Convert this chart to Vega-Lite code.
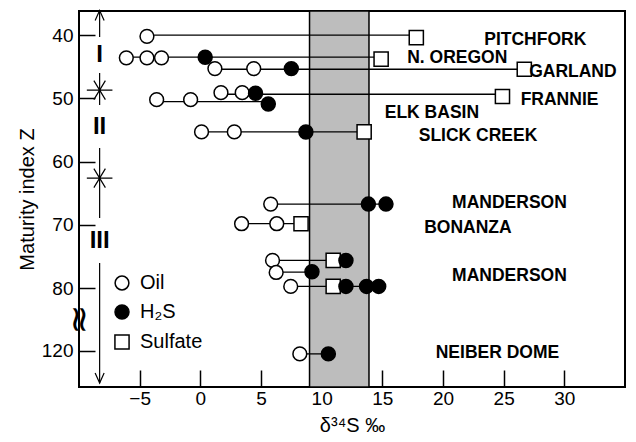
{
  "$schema": "https://vega.github.io/schema/vega-lite/v6.json",
  "width": 546,
  "height": 376,
  "autosize": {"type": "none"},
  "padding": {"left": 79, "top": 11, "right": 11, "bottom": 55},
  "background": "white",
  "config": {
    "view": {"stroke": "black", "strokeWidth": 2},
    "font": "Liberation Sans",
    "axis": {
      "grid": false,
      "domain": false,
      "tickColor": "black",
      "tickWidth": 1.5,
      "labelColor": "black",
      "labelFont": "Liberation Sans",
      "labelFontSize": 19,
      "titleFont": "Liberation Sans",
      "titleFontSize": 20,
      "titleFontWeight": "normal",
      "titleColor": "black"
    }
  },
  "datasets": {
    "pts": [
      {"site": "Pitchfork", "type": "Oil", "d34S": -4.4, "Z": 40.2},
      {"site": "Pitchfork", "type": "Sulfate", "d34S": 17.8, "Z": 40.4},
      {"site": "N. Oregon", "type": "Oil", "d34S": -6.1, "Z": 43.6},
      {"site": "N. Oregon", "type": "Oil", "d34S": -4.4, "Z": 43.6},
      {"site": "N. Oregon", "type": "Oil", "d34S": -3.2, "Z": 43.6},
      {"site": "N. Oregon", "type": "Sulfate", "d34S": 14.9, "Z": 43.8},
      {"site": "Garland", "type": "Oil", "d34S": 1.2, "Z": 45.3},
      {"site": "Garland", "type": "Oil", "d34S": 4.4, "Z": 45.3},
      {"site": "Garland", "type": "H₂S", "d34S": 7.5, "Z": 45.3},
      {"site": "Garland", "type": "Sulfate", "d34S": 26.7, "Z": 45.4},
      {"site": "N. Oregon", "type": "H₂S", "d34S": 0.4, "Z": 43.5},
      {"site": "Elk Basin", "type": "Oil", "d34S": -3.6, "Z": 50.2},
      {"site": "Elk Basin", "type": "Oil", "d34S": -0.8, "Z": 50.2},
      {"site": "Frannie", "type": "Oil", "d34S": 1.7, "Z": 49.1},
      {"site": "Frannie", "type": "Oil", "d34S": 3.45, "Z": 49.1},
      {"site": "Frannie", "type": "Sulfate", "d34S": 24.9, "Z": 49.7},
      {"site": "Frannie", "type": "H₂S", "d34S": 4.55, "Z": 49.2},
      {"site": "Elk Basin", "type": "H₂S", "d34S": 5.6, "Z": 50.9},
      {"site": "Slick Creek", "type": "Oil", "d34S": 0.1, "Z": 55.3},
      {"site": "Slick Creek", "type": "Oil", "d34S": 2.8, "Z": 55.3},
      {"site": "Slick Creek", "type": "H₂S", "d34S": 8.7, "Z": 55.3},
      {"site": "Slick Creek", "type": "Sulfate", "d34S": 13.5, "Z": 55.3},
      {"site": "Manderson", "type": "Oil", "d34S": 5.8, "Z": 66.7},
      {"site": "Manderson", "type": "H₂S", "d34S": 13.85, "Z": 66.7},
      {"site": "Manderson", "type": "H₂S", "d34S": 15.3, "Z": 66.7},
      {"site": "Bonanza", "type": "Oil", "d34S": 3.4, "Z": 69.8},
      {"site": "Bonanza", "type": "Oil", "d34S": 6.3, "Z": 69.8},
      {"site": "Bonanza", "type": "Sulfate", "d34S": 8.3, "Z": 69.8},
      {"site": "Manderson", "type": "Oil", "d34S": 5.95, "Z": 75.6},
      {"site": "Manderson", "type": "Sulfate", "d34S": 10.95, "Z": 75.6},
      {"site": "Manderson", "type": "H₂S", "d34S": 12.0, "Z": 75.6},
      {"site": "Manderson", "type": "Oil", "d34S": 6.25, "Z": 77.5},
      {"site": "Manderson", "type": "H₂S", "d34S": 9.2, "Z": 77.4},
      {"site": "Manderson", "type": "Oil", "d34S": 7.45, "Z": 79.7},
      {"site": "Manderson", "type": "Sulfate", "d34S": 10.95, "Z": 79.7},
      {"site": "Manderson", "type": "H₂S", "d34S": 12.0, "Z": 79.7},
      {"site": "Manderson", "type": "H₂S", "d34S": 13.7, "Z": 79.7},
      {"site": "Manderson", "type": "H₂S", "d34S": 14.7, "Z": 79.7},
      {"site": "Neiber Dome", "type": "Oil", "d34S": 8.2, "Z": 120.5},
      {"site": "Neiber Dome", "type": "H₂S", "d34S": 10.55, "Z": 120.5}
    ],
    "segs": [
      {"site": "Pitchfork", "d34S": -4.4, "d34S2": 17.8, "Z": 40.0},
      {"site": "N. Oregon", "d34S": -6.1, "d34S2": 14.9, "Z": 43.5},
      {"site": "Garland", "d34S": 1.2, "d34S2": 26.7, "Z": 45.4},
      {"site": "Frannie", "d34S": 1.7, "d34S2": 24.9, "Z": 49.35},
      {"site": "Elk Basin", "d34S": -3.6, "d34S2": 5.6, "Z": 50.5},
      {"site": "Slick Creek", "d34S": 0.1, "d34S2": 13.5, "Z": 55.3},
      {"site": "Manderson", "d34S": 5.8, "d34S2": 15.3, "Z": 66.7},
      {"site": "Bonanza", "d34S": 3.4, "d34S2": 8.3, "Z": 69.8},
      {"site": "Manderson", "d34S": 5.95, "d34S2": 12.0, "Z": 75.6},
      {"site": "Manderson", "d34S": 6.25, "d34S2": 9.2, "Z": 77.45},
      {"site": "Manderson", "d34S": 7.45, "d34S2": 14.7, "Z": 79.7},
      {"site": "Neiber Dome", "d34S": 8.2, "d34S2": 10.55, "Z": 120.5}
    ],
    "names": [
      {"name": "PITCHFORK", "d34S": 23.4, "Z": 40.8},
      {"name": "N. OREGON", "d34S": 17.05, "Z": 43.6},
      {"name": "GARLAND", "d34S": 27.1, "Z": 45.8},
      {"name": "FRANNIE", "d34S": 26.4, "Z": 50.3},
      {"name": "ELK BASIN", "d34S": 15.2, "Z": 52.3},
      {"name": "SLICK CREEK", "d34S": 18.0, "Z": 56.0},
      {"name": "MANDERSON", "d34S": 20.75, "Z": 66.6},
      {"name": "BONANZA", "d34S": 18.45, "Z": 70.5},
      {"name": "MANDERSON", "d34S": 20.75, "Z": 78.05},
      {"name": "NEIBER DOME", "d34S": 19.4, "Z": 120.4}
    ],
    "stages": [
      {"stage": "I", "d34S": -8.3, "Z": 43.2},
      {"stage": "II", "d34S": -8.3, "Z": 54.5},
      {"stage": "III", "d34S": -8.3, "Z": 72.5}
    ],
    "stageLine": [
      {"d34S": -8.3, "Z": 36.3, "Z2": 40.3},
      {"d34S": -8.3, "Z": 46.0, "Z2": 51.05},
      {"d34S": -8.3, "Z": 57.85, "Z2": 68.9},
      {"d34S": -8.3, "Z": 76.0, "Z2": 125.1}
    ],
    "stars": [
      {"d34S": -8.3, "Z": 48.7},
      {"d34S": -8.3, "Z": 62.6}
    ]
  },
  "layer": [
    {
      "data": {"values": [{"d34S": 9.0, "d34S2": 13.9}]},
      "mark": {"type": "rect", "fill": "#bdbdbd", "stroke": "black", "strokeWidth": 1.5},
      "encoding": {
        "x": {"field": "d34S", "type": "quantitative"},
        "x2": {"field": "d34S2"}
      }
    },
    {
      "data": {"name": "segs"},
      "mark": {"type": "rule", "color": "black", "strokeWidth": 1.3},
      "encoding": {
        "x": {
          "field": "d34S", "type": "quantitative",
          "scale": {"domain": [-10, 35], "nice": false, "zero": false},
          "axis": {"title": "δ³⁴S ‰", "values": [-5, 0, 5, 10, 15, 20, 25, 30], "offset": -17, "tickSize": 17, "labelPadding": 2, "titlePadding": 7}
        },
        "x2": {"field": "d34S2"},
        "y": {
          "field": "Z", "type": "quantitative",
          "scale": {"domain": [36.2, 80, 120, 125.7], "range": [0, 277.3, 339.7, 376], "nice": false, "zero": false},
          "axis": {"title": "Maturity index Z", "values": [40, 50, 60, 70, 80, 120], "offset": -16, "tickSize": 16, "labelPadding": 6, "titlePadding": 4}
        }
      }
    },
    {
      "data": {"name": "stageLine"},
      "mark": {"type": "rule", "color": "black", "strokeWidth": 1.2},
      "encoding": {
        "x": {"field": "d34S", "type": "quantitative"},
        "y": {"field": "Z", "type": "quantitative"},
        "y2": {"field": "Z2"}
      }
    },
    {
      "data": {"name": "stars"},
      "mark": {"type": "point", "shape": "M-1,0L1,0M-0.45,-0.74L0.45,0.74M-0.45,0.74L0.45,-0.74", "size": 655, "filled": false, "stroke": "black", "strokeWidth": 1.2, "opacity": 1},
      "encoding": {
        "x": {"field": "d34S", "type": "quantitative"},
        "y": {"field": "Z", "type": "quantitative"}
      }
    },
    {
      "data": {"values": [{"end": "top", "d34S": -8.3, "Z": 36.9}]},
      "mark": {"type": "point", "shape": "M-0.45,0.5L0,-0.5L0.45,0.5", "size": 400, "filled": false, "stroke": "black", "strokeWidth": 1.2, "opacity": 1},
      "encoding": {
        "x": {"field": "d34S", "type": "quantitative"},
        "y": {"field": "Z", "type": "quantitative"}
      }
    },
    {
      "data": {"values": [{"end": "bottom", "d34S": -8.3, "Z": 124.3}]},
      "mark": {"type": "point", "shape": "M-0.45,-0.5L0,0.5L0.45,-0.5", "size": 400, "filled": false, "stroke": "black", "strokeWidth": 1.2, "opacity": 1},
      "encoding": {
        "x": {"field": "d34S", "type": "quantitative"},
        "y": {"field": "Z", "type": "quantitative"}
      }
    },
    {
      "data": {"name": "stages"},
      "mark": {"type": "text", "font": "Liberation Sans", "fontWeight": "bold", "fontSize": 24, "align": "center", "baseline": "middle", "color": "black"},
      "encoding": {
        "x": {"field": "d34S", "type": "quantitative"},
        "y": {"field": "Z", "type": "quantitative"},
        "text": {"field": "stage"}
      }
    },
    {
      "data": {"values": [{"sym": "≈", "d34S": -10, "Z": 100}]},
      "mark": {"type": "text", "font": "DejaVu Sans", "fontSize": 36, "angle": 90, "align": "center", "baseline": "middle", "color": "black"},
      "encoding": {
        "x": {"field": "d34S", "type": "quantitative"},
        "y": {"field": "Z", "type": "quantitative"},
        "text": {"field": "sym"}
      }
    },
    {
      "data": {"name": "pts"},
      "mark": {"type": "point", "filled": true, "stroke": "black", "strokeWidth": 1.5, "opacity": 1},
      "encoding": {
        "x": {"field": "d34S", "type": "quantitative"},
        "y": {"field": "Z", "type": "quantitative"},
        "fill": {
          "field": "type", "type": "nominal",
          "scale": {"domain": ["Oil", "H₂S", "Sulfate"], "range": ["white", "black", "white"]},
          "legend": {"orient": "none", "legendX": 33, "legendY": 262, "title": null, "padding": 0, "labelFont": "Liberation Sans", "labelFontSize": 20, "labelColor": "black", "labelOffset": 8, "rowPadding": 9, "symbolStrokeColor": "black", "symbolStrokeWidth": 1.5, "symbolOpacity": 1}
        },
        "shape": {
          "field": "type", "type": "nominal",
          "scale": {"domain": ["Oil", "H₂S", "Sulfate"], "range": ["circle", "circle", "square"]}
        },
        "size": {
          "field": "type", "type": "nominal",
          "scale": {"domain": ["Oil", "H₂S", "Sulfate"], "range": [190, 200, 150]}
        }
      }
    },
    {
      "data": {"name": "names"},
      "mark": {"type": "text", "font": "Liberation Sans", "fontWeight": "bold", "fontSize": 17.5, "align": "left", "baseline": "middle", "color": "black"},
      "encoding": {
        "x": {"field": "d34S", "type": "quantitative"},
        "y": {"field": "Z", "type": "quantitative"},
        "text": {"field": "name"}
      }
    }
  ]
}
